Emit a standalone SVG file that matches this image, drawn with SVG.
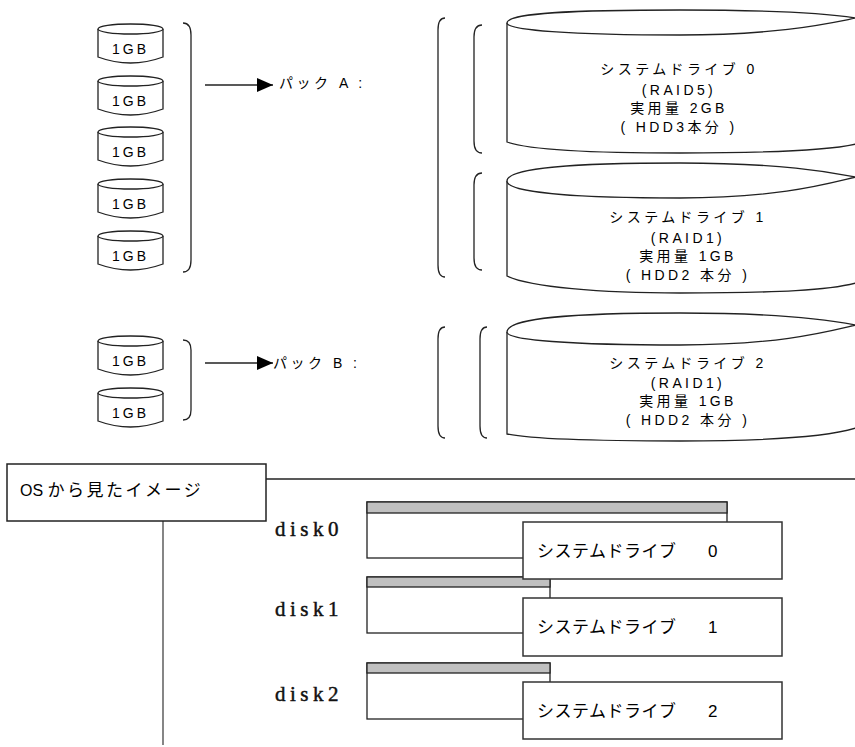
<svg xmlns="http://www.w3.org/2000/svg" width="855" height="747" viewBox="0 0 855 747">
<defs>
<style>
.ln{fill:none;stroke:#222;stroke-width:1.3}
.cyl{fill:#fff;stroke:#222;stroke-width:1.3}
.t{font-family:"Liberation Sans","Noto Sans CJK JP",sans-serif;fill:#000}
.s14{font-size:14px;letter-spacing:3px}
.pk{font-size:14px;letter-spacing:3.5px}
.big{font-size:14px;letter-spacing:3.4px;text-anchor:middle}
.disk{font-family:"Liberation Serif",serif;font-size:21px;letter-spacing:4.5px;fill:#111;stroke:#111;stroke-width:0.45}
.box{fill:#fff;stroke:#333;stroke-width:1.5}
.band{fill:#c0c0c0;stroke:#222;stroke-width:1.3}
.lbl{font-size:17px;letter-spacing:0.5px}
</style>
<marker id="ah" viewBox="0 0 16 14" refX="16" refY="7" markerWidth="16" markerHeight="14" markerUnits="userSpaceOnUse" orient="auto">
<path d="M0,0 L16,7 L0,14 Z" fill="#000"/>
</marker>
</defs>
<rect width="855" height="747" fill="#fff"/>

<!-- small disks pack A -->
<g id="hddA1" transform="translate(0,24)">
<path class="cyl" d="M98,5 L98,33 Q130.5,45 163,33 L163,5"/>
<ellipse class="cyl" cx="130.5" cy="5" rx="32.5" ry="5"/>
<text class="t s14" x="112" y="30">1GB</text>
</g>
<g id="hddA2" transform="translate(0,76)">
<path class="cyl" d="M98,5 L98,33 Q130.5,45 163,33 L163,5"/>
<ellipse class="cyl" cx="130.5" cy="5" rx="32.5" ry="5"/>
<text class="t s14" x="112" y="30">1GB</text>
</g>
<g id="hddA3" transform="translate(0,127)">
<path class="cyl" d="M98,5 L98,33 Q130.5,45 163,33 L163,5"/>
<ellipse class="cyl" cx="130.5" cy="5" rx="32.5" ry="5"/>
<text class="t s14" x="112" y="30">1GB</text>
</g>
<g id="hddA4" transform="translate(0,179)">
<path class="cyl" d="M98,5 L98,33 Q130.5,45 163,33 L163,5"/>
<ellipse class="cyl" cx="130.5" cy="5" rx="32.5" ry="5"/>
<text class="t s14" x="112" y="30">1GB</text>
</g>
<g id="hddA5" transform="translate(0,231)">
<path class="cyl" d="M98,5 L98,33 Q130.5,45 163,33 L163,5"/>
<ellipse class="cyl" cx="130.5" cy="5" rx="32.5" ry="5"/>
<text class="t s14" x="112" y="30">1GB</text>
</g>

<!-- small disks pack B -->
<g id="hddB1" transform="translate(0,336)">
<path class="cyl" d="M98,5 L98,33 Q130.5,45 163,33 L163,5"/>
<ellipse class="cyl" cx="130.5" cy="5" rx="32.5" ry="5"/>
<text class="t s14" x="112" y="30">1GB</text>
</g>
<g id="hddB2" transform="translate(0,388)">
<path class="cyl" d="M98,5 L98,33 Q130.5,45 163,33 L163,5"/>
<ellipse class="cyl" cx="130.5" cy="5" rx="32.5" ry="5"/>
<text class="t s14" x="112" y="30">1GB</text>
</g>

<!-- brackets -->
<g id="brackets">
<path class="ln" d="M183,23 Q191,23 191,35 L191,260 Q191,272 183,272"/>
<path class="ln" d="M183,340 Q191,340 191,350 L191,410 Q191,420 183,420"/>
<path class="ln" d="M445,18 Q438,18 438,30 L438,265 Q438,277 445,277"/>
<path class="ln" d="M482,25 Q474,25 474,37 L474,141 Q474,153 482,153"/>
<path class="ln" d="M482,173 Q474,173 474,185 L474,258 Q474,270 482,270"/>
<path class="ln" d="M445,327 Q438,327 438,339 L438,426 Q438,438 445,438"/>
<path class="ln" d="M487,327 Q480,327 480,339 L480,426 Q480,438 487,438"/>
</g>

<!-- pack labels -->
<g id="packA">
<text class="t pk" x="279" y="88">パック A :</text>
</g>
<g id="packB">
<text class="t pk" x="273" y="368">パック B :</text>
</g>

<!-- system drives -->
<g id="sd0">
<path class="ln" d="M507,23 L507,142 C530,150 600,153 680,153 C780,153 830,150 856,144"/>
<path class="cyl" d="M507,23 C507,13 570,10 680,10 C780,10 830,14 856,18 C830,23 780,35 680,35 C570,35 507,30 507,23 Z"/>
<text class="t big" x="679" y="74">システムドライブ 0</text>
<text class="t big" x="679" y="95">(RAID5)</text>
<text class="t big" x="679" y="113">実用量 2GB</text>
<text class="t big" x="679" y="132">( HDD3本分 )</text>
</g>
<g id="sd1">
<path class="ln" d="M507,181 L507,276 C530,287 600,293 680,293 C780,293 830,290 856,283"/>
<path class="cyl" d="M507,181 C507,168 570,163 680,163 C780,163 830,172 856,177 C830,183 780,198 680,198 C570,198 507,192 507,181 Z"/>
<text class="t big" x="688" y="222">システムドライブ 1</text>
<text class="t big" x="688" y="243">(RAID1)</text>
<text class="t big" x="688" y="261">実用量 1GB</text>
<text class="t big" x="688" y="280">( HDD2 本分 )</text>
</g>
<g id="sd2">
<path class="ln" d="M507,332 L507,434 C530,439 600,441 680,441 C780,441 830,436 856,428"/>
<path class="cyl" d="M507,332 C507,318 570,313 680,313 C780,313 830,320 856,325 C830,331 780,345 680,345 C570,345 507,340 507,332 Z"/>
<text class="t big" x="688" y="368">システムドライブ 2</text>
<text class="t big" x="688" y="388">(RAID1)</text>
<text class="t big" x="688" y="406">実用量 1GB</text>
<text class="t big" x="688" y="425">( HDD2 本分 )</text>
</g>

<!-- connectors -->
<g id="connectors">
<line class="ln" x1="205" y1="85" x2="273" y2="85" marker-end="url(#ah)"/>
<line class="ln" x1="205" y1="363" x2="273" y2="363" marker-end="url(#ah)"/>
<line class="ln" x1="266" y1="479" x2="855" y2="479"/>
<line x1="163" y1="521" x2="163" y2="745" stroke="#444" stroke-width="1.3"/>
</g>

<!-- OS view -->
<g id="osview">
<rect class="box" x="7" y="464" width="259" height="57" style="stroke:#222"/>
<text class="t" x="20" y="496" style="font-size:16px">OS <tspan style="font-size:17px;letter-spacing:2.5px">から見たイメージ</tspan></text>
</g>

<g id="disk0">
<text class="disk" x="275" y="536">disk0</text>
<rect class="box" x="367" y="502" width="360" height="56" style="stroke:#222;stroke-width:1.3"/>
<rect class="band" x="367" y="502" width="360" height="11"/>
</g>
<g id="disk1">
<text class="disk" x="275" y="616">disk1</text>
<rect class="box" x="367" y="577" width="183" height="56" style="stroke:#222;stroke-width:1.3"/>
<rect class="band" x="367" y="577" width="183" height="10"/>
</g>
<g id="disk2">
<text class="disk" x="275" y="701">disk2</text>
<rect class="box" x="367" y="663" width="183" height="56" style="stroke:#222;stroke-width:1.3"/>
<rect class="band" x="367" y="663" width="183" height="10"/>
</g>

<g id="label0">
<rect class="box" x="523" y="522" width="259" height="57"/>
<text class="t lbl" x="537" y="557">システムドライブ<tspan x="708">0</tspan></text>
</g>
<g id="label1">
<rect class="box" x="523" y="598" width="259" height="58"/>
<text class="t lbl" x="537" y="633">システムドライブ<tspan x="708">1</tspan></text>
</g>
<g id="label2">
<rect class="box" x="523" y="682" width="259" height="57"/>
<text class="t lbl" x="537" y="717">システムドライブ<tspan x="708">2</tspan></text>
</g>
</svg>
